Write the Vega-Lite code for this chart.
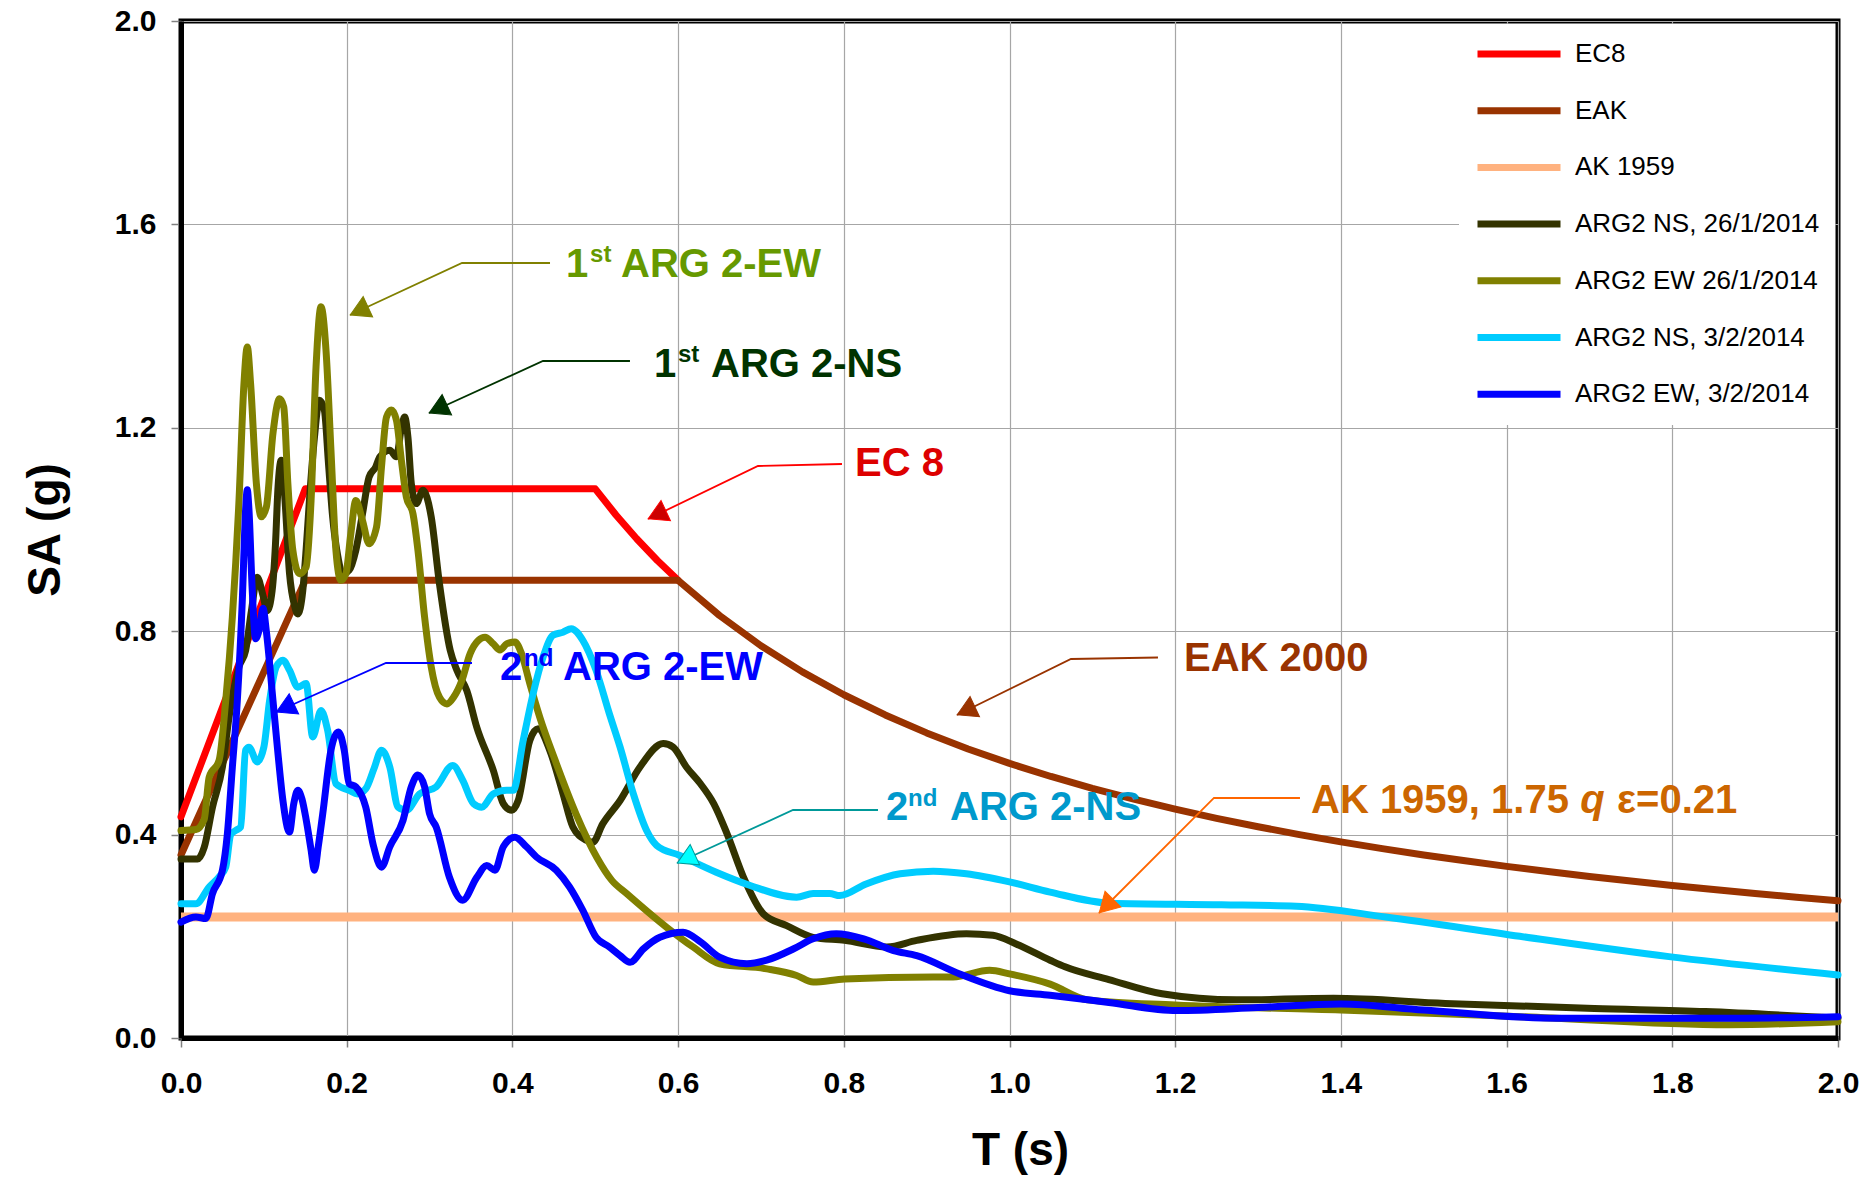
{
  "$schema": "https://vega.github.io/schema/vega-lite/v6.json",
  "width": 1657,
  "height": 1017,
  "autosize": {"type": "none"},
  "padding": {"left": 181, "top": 21, "right": 30, "bottom": 141},
  "background": "white",
  "config": {
    "font": "Liberation Sans",
    "view": {"stroke": "black", "strokeWidth": 5},
    "axis": {
      "labelFont": "Liberation Sans", "labelFontWeight": "bold", "labelFontSize": 30, "labelColor": "black",
      "titleFont": "Liberation Sans", "titleFontWeight": "bold", "titleFontSize": 46, "titleColor": "black",
      "domainColor": "black", "domainWidth": 5, "tickColor": "#808080", "tickWidth": 1.5,
      "gridColor": "#a6a6a6", "gridWidth": 1.2, "labelFlush": false, "labelOverlap": false, "labelBound": false
    },
    "legend": {
      "orient": "top-right", "offset": 3, "title": null, "symbolType": "stroke", "symbolSize": 6889,
      "symbolStrokeWidth": 7, "labelFont": "Liberation Sans", "labelFontSize": 26, "labelColor": "black",
      "fillColor": "white", "padding": 15, "rowPadding": 26.7, "clipHeight": 30, "labelOffset": 11, "labelLimit": 400
    }
  },
  "datasets": {
    "codes": [
      {"s": "EC8", "T": 0, "SA": 0.435}, {"s": "EC8", "T": 0.15, "SA": 1.08}, {"s": "EC8", "T": 0.5, "SA": 1.08},
      {"s": "EC8", "T": 0.525, "SA": 1.0286}, {"s": "EC8", "T": 0.55, "SA": 0.9818}, {"s": "EC8", "T": 0.575, "SA": 0.9391}, {"s": "EC8", "T": 0.6, "SA": 0.9},
      {"s": "EAK", "T": 0, "SA": 0.36}, {"s": "EAK", "T": 0.15, "SA": 0.9}, {"s": "EAK", "T": 0.6, "SA": 0.9},
      {"s": "EAK", "T": 0.65, "SA": 0.8308}, {"s": "EAK", "T": 0.7, "SA": 0.7714}, {"s": "EAK", "T": 0.75, "SA": 0.72},
      {"s": "EAK", "T": 0.8, "SA": 0.675}, {"s": "EAK", "T": 0.85, "SA": 0.6353}, {"s": "EAK", "T": 0.9, "SA": 0.6},
      {"s": "EAK", "T": 0.95, "SA": 0.5684}, {"s": "EAK", "T": 1.0, "SA": 0.54}, {"s": "EAK", "T": 1.05, "SA": 0.5143},
      {"s": "EAK", "T": 1.1, "SA": 0.4909}, {"s": "EAK", "T": 1.15, "SA": 0.4696}, {"s": "EAK", "T": 1.2, "SA": 0.45},
      {"s": "EAK", "T": 1.25, "SA": 0.432}, {"s": "EAK", "T": 1.3, "SA": 0.4154}, {"s": "EAK", "T": 1.35, "SA": 0.4},
      {"s": "EAK", "T": 1.4, "SA": 0.3857}, {"s": "EAK", "T": 1.45, "SA": 0.3724}, {"s": "EAK", "T": 1.5, "SA": 0.36},
      {"s": "EAK", "T": 1.55, "SA": 0.3484}, {"s": "EAK", "T": 1.6, "SA": 0.3375}, {"s": "EAK", "T": 1.65, "SA": 0.3273},
      {"s": "EAK", "T": 1.7, "SA": 0.3176}, {"s": "EAK", "T": 1.75, "SA": 0.3086}, {"s": "EAK", "T": 1.8, "SA": 0.3},
      {"s": "EAK", "T": 1.85, "SA": 0.2919}, {"s": "EAK", "T": 1.9, "SA": 0.2842}, {"s": "EAK", "T": 1.95, "SA": 0.2769},
      {"s": "EAK", "T": 2.0, "SA": 0.27}
    ],
    "ak": [
      {"s": "AK 1959", "T": 0, "SA": 0.238}, {"s": "AK 1959", "T": 2, "SA": 0.238}
    ],
    "rec": [
      {"s": "ARG2 NS, 26/1/2014", "T": 0, "SA": 0.352}, {"s": "ARG2 NS, 26/1/2014", "T": 0.02, "SA": 0.352},
      {"s": "ARG2 NS, 26/1/2014", "T": 0.028, "SA": 0.375}, {"s": "ARG2 NS, 26/1/2014", "T": 0.038, "SA": 0.454},
      {"s": "ARG2 NS, 26/1/2014", "T": 0.05, "SA": 0.533}, {"s": "ARG2 NS, 26/1/2014", "T": 0.058, "SA": 0.631},
      {"s": "ARG2 NS, 26/1/2014", "T": 0.07, "SA": 0.73}, {"s": "ARG2 NS, 26/1/2014", "T": 0.078, "SA": 0.762},
      {"s": "ARG2 NS, 26/1/2014", "T": 0.085, "SA": 0.84}, {"s": "ARG2 NS, 26/1/2014", "T": 0.092, "SA": 0.906},
      {"s": "ARG2 NS, 26/1/2014", "T": 0.099, "SA": 0.87}, {"s": "ARG2 NS, 26/1/2014", "T": 0.104, "SA": 0.84},
      {"s": "ARG2 NS, 26/1/2014", "T": 0.11, "SA": 0.88}, {"s": "ARG2 NS, 26/1/2014", "T": 0.114, "SA": 0.97},
      {"s": "ARG2 NS, 26/1/2014", "T": 0.117, "SA": 1.08}, {"s": "ARG2 NS, 26/1/2014", "T": 0.121, "SA": 1.136},
      {"s": "ARG2 NS, 26/1/2014", "T": 0.125, "SA": 1.07}, {"s": "ARG2 NS, 26/1/2014", "T": 0.131, "SA": 0.913},
      {"s": "ARG2 NS, 26/1/2014", "T": 0.137, "SA": 0.85}, {"s": "ARG2 NS, 26/1/2014", "T": 0.141, "SA": 0.834},
      {"s": "ARG2 NS, 26/1/2014", "T": 0.147, "SA": 0.88}, {"s": "ARG2 NS, 26/1/2014", "T": 0.151, "SA": 0.96},
      {"s": "ARG2 NS, 26/1/2014", "T": 0.155, "SA": 1.057}, {"s": "ARG2 NS, 26/1/2014", "T": 0.161, "SA": 1.18},
      {"s": "ARG2 NS, 26/1/2014", "T": 0.167, "SA": 1.254}, {"s": "ARG2 NS, 26/1/2014", "T": 0.173, "SA": 1.235},
      {"s": "ARG2 NS, 26/1/2014", "T": 0.178, "SA": 1.13}, {"s": "ARG2 NS, 26/1/2014", "T": 0.183, "SA": 1.025},
      {"s": "ARG2 NS, 26/1/2014", "T": 0.189, "SA": 0.95}, {"s": "ARG2 NS, 26/1/2014", "T": 0.195, "SA": 0.913},
      {"s": "ARG2 NS, 26/1/2014", "T": 0.203, "SA": 0.92}, {"s": "ARG2 NS, 26/1/2014", "T": 0.211, "SA": 0.959},
      {"s": "ARG2 NS, 26/1/2014", "T": 0.219, "SA": 1.03}, {"s": "ARG2 NS, 26/1/2014", "T": 0.227, "SA": 1.103},
      {"s": "ARG2 NS, 26/1/2014", "T": 0.235, "SA": 1.123}, {"s": "ARG2 NS, 26/1/2014", "T": 0.24, "SA": 1.143},
      {"s": "ARG2 NS, 26/1/2014", "T": 0.252, "SA": 1.156}, {"s": "ARG2 NS, 26/1/2014", "T": 0.26, "SA": 1.143},
      {"s": "ARG2 NS, 26/1/2014", "T": 0.266, "SA": 1.2}, {"s": "ARG2 NS, 26/1/2014", "T": 0.27, "SA": 1.221},
      {"s": "ARG2 NS, 26/1/2014", "T": 0.274, "SA": 1.18}, {"s": "ARG2 NS, 26/1/2014", "T": 0.278, "SA": 1.09},
      {"s": "ARG2 NS, 26/1/2014", "T": 0.284, "SA": 1.051}, {"s": "ARG2 NS, 26/1/2014", "T": 0.292, "SA": 1.077},
      {"s": "ARG2 NS, 26/1/2014", "T": 0.302, "SA": 1.025}, {"s": "ARG2 NS, 26/1/2014", "T": 0.312, "SA": 0.893},
      {"s": "ARG2 NS, 26/1/2014", "T": 0.325, "SA": 0.762}, {"s": "ARG2 NS, 26/1/2014", "T": 0.333, "SA": 0.723},
      {"s": "ARG2 NS, 26/1/2014", "T": 0.345, "SA": 0.683}, {"s": "ARG2 NS, 26/1/2014", "T": 0.357, "SA": 0.611},
      {"s": "ARG2 NS, 26/1/2014", "T": 0.377, "SA": 0.526}, {"s": "ARG2 NS, 26/1/2014", "T": 0.389, "SA": 0.461},
      {"s": "ARG2 NS, 26/1/2014", "T": 0.399, "SA": 0.448}, {"s": "ARG2 NS, 26/1/2014", "T": 0.407, "SA": 0.467},
      {"s": "ARG2 NS, 26/1/2014", "T": 0.421, "SA": 0.585}, {"s": "ARG2 NS, 26/1/2014", "T": 0.431, "SA": 0.608},
      {"s": "ARG2 NS, 26/1/2014", "T": 0.445, "SA": 0.566}, {"s": "ARG2 NS, 26/1/2014", "T": 0.461, "SA": 0.481},
      {"s": "ARG2 NS, 26/1/2014", "T": 0.473, "SA": 0.415}, {"s": "ARG2 NS, 26/1/2014", "T": 0.489, "SA": 0.389},
      {"s": "ARG2 NS, 26/1/2014", "T": 0.497, "SA": 0.385}, {"s": "ARG2 NS, 26/1/2014", "T": 0.509, "SA": 0.421},
      {"s": "ARG2 NS, 26/1/2014", "T": 0.53, "SA": 0.467}, {"s": "ARG2 NS, 26/1/2014", "T": 0.554, "SA": 0.533},
      {"s": "ARG2 NS, 26/1/2014", "T": 0.582, "SA": 0.579}, {"s": "ARG2 NS, 26/1/2014", "T": 0.594, "SA": 0.572},
      {"s": "ARG2 NS, 26/1/2014", "T": 0.61, "SA": 0.533}, {"s": "ARG2 NS, 26/1/2014", "T": 0.627, "SA": 0.5},
      {"s": "ARG2 NS, 26/1/2014", "T": 0.643, "SA": 0.461}, {"s": "ARG2 NS, 26/1/2014", "T": 0.659, "SA": 0.402},
      {"s": "ARG2 NS, 26/1/2014", "T": 0.679, "SA": 0.316}, {"s": "ARG2 NS, 26/1/2014", "T": 0.703, "SA": 0.244},
      {"s": "ARG2 NS, 26/1/2014", "T": 0.731, "SA": 0.221}, {"s": "ARG2 NS, 26/1/2014", "T": 0.763, "SA": 0.198},
      {"s": "ARG2 NS, 26/1/2014", "T": 0.801, "SA": 0.192}, {"s": "ARG2 NS, 26/1/2014", "T": 0.852, "SA": 0.179},
      {"s": "ARG2 NS, 26/1/2014", "T": 0.888, "SA": 0.192}, {"s": "ARG2 NS, 26/1/2014", "T": 0.948, "SA": 0.205},
      {"s": "ARG2 NS, 26/1/2014", "T": 0.98, "SA": 0.202}, {"s": "ARG2 NS, 26/1/2014", "T": 1.008, "SA": 0.185},
      {"s": "ARG2 NS, 26/1/2014", "T": 1.049, "SA": 0.153}, {"s": "ARG2 NS, 26/1/2014", "T": 1.067, "SA": 0.14},
      {"s": "ARG2 NS, 26/1/2014", "T": 1.12, "SA": 0.115}, {"s": "ARG2 NS, 26/1/2014", "T": 1.184, "SA": 0.087},
      {"s": "ARG2 NS, 26/1/2014", "T": 1.274, "SA": 0.075}, {"s": "ARG2 NS, 26/1/2014", "T": 1.391, "SA": 0.078},
      {"s": "ARG2 NS, 26/1/2014", "T": 1.526, "SA": 0.068}, {"s": "ARG2 NS, 26/1/2014", "T": 1.706, "SA": 0.058},
      {"s": "ARG2 NS, 26/1/2014", "T": 1.84, "SA": 0.052}, {"s": "ARG2 NS, 26/1/2014", "T": 2.0, "SA": 0.039},

      {"s": "ARG2 EW 26/1/2014", "T": 0, "SA": 0.408}, {"s": "ARG2 EW 26/1/2014", "T": 0.018, "SA": 0.41},
      {"s": "ARG2 EW 26/1/2014", "T": 0.028, "SA": 0.43}, {"s": "ARG2 EW 26/1/2014", "T": 0.034, "SA": 0.513},
      {"s": "ARG2 EW 26/1/2014", "T": 0.046, "SA": 0.546}, {"s": "ARG2 EW 26/1/2014", "T": 0.054, "SA": 0.664},
      {"s": "ARG2 EW 26/1/2014", "T": 0.062, "SA": 0.828}, {"s": "ARG2 EW 26/1/2014", "T": 0.07, "SA": 1.057},
      {"s": "ARG2 EW 26/1/2014", "T": 0.076, "SA": 1.287}, {"s": "ARG2 EW 26/1/2014", "T": 0.08, "SA": 1.359},
      {"s": "ARG2 EW 26/1/2014", "T": 0.084, "SA": 1.287}, {"s": "ARG2 EW 26/1/2014", "T": 0.091, "SA": 1.09},
      {"s": "ARG2 EW 26/1/2014", "T": 0.097, "SA": 1.025}, {"s": "ARG2 EW 26/1/2014", "T": 0.103, "SA": 1.044},
      {"s": "ARG2 EW 26/1/2014", "T": 0.111, "SA": 1.189}, {"s": "ARG2 EW 26/1/2014", "T": 0.119, "SA": 1.257},
      {"s": "ARG2 EW 26/1/2014", "T": 0.124, "SA": 1.241}, {"s": "ARG2 EW 26/1/2014", "T": 0.129, "SA": 1.09},
      {"s": "ARG2 EW 26/1/2014", "T": 0.135, "SA": 0.959}, {"s": "ARG2 EW 26/1/2014", "T": 0.143, "SA": 0.913},
      {"s": "ARG2 EW 26/1/2014", "T": 0.151, "SA": 0.926}, {"s": "ARG2 EW 26/1/2014", "T": 0.157, "SA": 1.057},
      {"s": "ARG2 EW 26/1/2014", "T": 0.163, "SA": 1.32}, {"s": "ARG2 EW 26/1/2014", "T": 0.169, "SA": 1.438},
      {"s": "ARG2 EW 26/1/2014", "T": 0.175, "SA": 1.353}, {"s": "ARG2 EW 26/1/2014", "T": 0.181, "SA": 1.156},
      {"s": "ARG2 EW 26/1/2014", "T": 0.187, "SA": 0.959}, {"s": "ARG2 EW 26/1/2014", "T": 0.193, "SA": 0.9},
      {"s": "ARG2 EW 26/1/2014", "T": 0.199, "SA": 0.913}, {"s": "ARG2 EW 26/1/2014", "T": 0.205, "SA": 0.992},
      {"s": "ARG2 EW 26/1/2014", "T": 0.211, "SA": 1.057}, {"s": "ARG2 EW 26/1/2014", "T": 0.219, "SA": 1.018},
      {"s": "ARG2 EW 26/1/2014", "T": 0.227, "SA": 0.972}, {"s": "ARG2 EW 26/1/2014", "T": 0.236, "SA": 1.005},
      {"s": "ARG2 EW 26/1/2014", "T": 0.242, "SA": 1.123}, {"s": "ARG2 EW 26/1/2014", "T": 0.248, "SA": 1.221},
      {"s": "ARG2 EW 26/1/2014", "T": 0.254, "SA": 1.235}, {"s": "ARG2 EW 26/1/2014", "T": 0.26, "SA": 1.215},
      {"s": "ARG2 EW 26/1/2014", "T": 0.266, "SA": 1.136}, {"s": "ARG2 EW 26/1/2014", "T": 0.272, "SA": 1.064},
      {"s": "ARG2 EW 26/1/2014", "T": 0.28, "SA": 1.031}, {"s": "ARG2 EW 26/1/2014", "T": 0.286, "SA": 0.959},
      {"s": "ARG2 EW 26/1/2014", "T": 0.294, "SA": 0.828}, {"s": "ARG2 EW 26/1/2014", "T": 0.302, "SA": 0.73},
      {"s": "ARG2 EW 26/1/2014", "T": 0.312, "SA": 0.67}, {"s": "ARG2 EW 26/1/2014", "T": 0.321, "SA": 0.657},
      {"s": "ARG2 EW 26/1/2014", "T": 0.329, "SA": 0.67}, {"s": "ARG2 EW 26/1/2014", "T": 0.339, "SA": 0.703},
      {"s": "ARG2 EW 26/1/2014", "T": 0.349, "SA": 0.756}, {"s": "ARG2 EW 26/1/2014", "T": 0.359, "SA": 0.782},
      {"s": "ARG2 EW 26/1/2014", "T": 0.367, "SA": 0.788}, {"s": "ARG2 EW 26/1/2014", "T": 0.377, "SA": 0.775},
      {"s": "ARG2 EW 26/1/2014", "T": 0.385, "SA": 0.763}, {"s": "ARG2 EW 26/1/2014", "T": 0.393, "SA": 0.775},
      {"s": "ARG2 EW 26/1/2014", "T": 0.403, "SA": 0.779}, {"s": "ARG2 EW 26/1/2014", "T": 0.411, "SA": 0.756},
      {"s": "ARG2 EW 26/1/2014", "T": 0.421, "SA": 0.697}, {"s": "ARG2 EW 26/1/2014", "T": 0.433, "SA": 0.631},
      {"s": "ARG2 EW 26/1/2014", "T": 0.453, "SA": 0.54}, {"s": "ARG2 EW 26/1/2014", "T": 0.477, "SA": 0.44},
      {"s": "ARG2 EW 26/1/2014", "T": 0.502, "SA": 0.355}, {"s": "ARG2 EW 26/1/2014", "T": 0.52, "SA": 0.31},
      {"s": "ARG2 EW 26/1/2014", "T": 0.538, "SA": 0.284}, {"s": "ARG2 EW 26/1/2014", "T": 0.586, "SA": 0.218},
      {"s": "ARG2 EW 26/1/2014", "T": 0.618, "SA": 0.179}, {"s": "ARG2 EW 26/1/2014", "T": 0.65, "SA": 0.146},
      {"s": "ARG2 EW 26/1/2014", "T": 0.707, "SA": 0.136}, {"s": "ARG2 EW 26/1/2014", "T": 0.743, "SA": 0.123},
      {"s": "ARG2 EW 26/1/2014", "T": 0.763, "SA": 0.11}, {"s": "ARG2 EW 26/1/2014", "T": 0.801, "SA": 0.116},
      {"s": "ARG2 EW 26/1/2014", "T": 0.908, "SA": 0.12}, {"s": "ARG2 EW 26/1/2014", "T": 0.932, "SA": 0.12},
      {"s": "ARG2 EW 26/1/2014", "T": 0.976, "SA": 0.133}, {"s": "ARG2 EW 26/1/2014", "T": 1.0, "SA": 0.126},
      {"s": "ARG2 EW 26/1/2014", "T": 1.049, "SA": 0.106}, {"s": "ARG2 EW 26/1/2014", "T": 1.094, "SA": 0.075},
      {"s": "ARG2 EW 26/1/2014", "T": 1.2, "SA": 0.065}, {"s": "ARG2 EW 26/1/2014", "T": 1.4, "SA": 0.055},
      {"s": "ARG2 EW 26/1/2014", "T": 1.616, "SA": 0.042}, {"s": "ARG2 EW 26/1/2014", "T": 1.868, "SA": 0.026},
      {"s": "ARG2 EW 26/1/2014", "T": 2.0, "SA": 0.032},

      {"s": "ARG2 NS, 3/2/2014", "T": 0, "SA": 0.264}, {"s": "ARG2 NS, 3/2/2014", "T": 0.018, "SA": 0.264},
      {"s": "ARG2 NS, 3/2/2014", "T": 0.034, "SA": 0.297}, {"s": "ARG2 NS, 3/2/2014", "T": 0.046, "SA": 0.317},
      {"s": "ARG2 NS, 3/2/2014", "T": 0.054, "SA": 0.336}, {"s": "ARG2 NS, 3/2/2014", "T": 0.06, "SA": 0.4},
      {"s": "ARG2 NS, 3/2/2014", "T": 0.066, "SA": 0.408}, {"s": "ARG2 NS, 3/2/2014", "T": 0.072, "SA": 0.415},
      {"s": "ARG2 NS, 3/2/2014", "T": 0.078, "SA": 0.566}, {"s": "ARG2 NS, 3/2/2014", "T": 0.082, "SA": 0.572},
      {"s": "ARG2 NS, 3/2/2014", "T": 0.092, "SA": 0.543}, {"s": "ARG2 NS, 3/2/2014", "T": 0.1, "SA": 0.572},
      {"s": "ARG2 NS, 3/2/2014", "T": 0.107, "SA": 0.664}, {"s": "ARG2 NS, 3/2/2014", "T": 0.115, "SA": 0.73},
      {"s": "ARG2 NS, 3/2/2014", "T": 0.123, "SA": 0.743}, {"s": "ARG2 NS, 3/2/2014", "T": 0.131, "SA": 0.723},
      {"s": "ARG2 NS, 3/2/2014", "T": 0.141, "SA": 0.69}, {"s": "ARG2 NS, 3/2/2014", "T": 0.151, "SA": 0.697},
      {"s": "ARG2 NS, 3/2/2014", "T": 0.159, "SA": 0.592}, {"s": "ARG2 NS, 3/2/2014", "T": 0.169, "SA": 0.644},
      {"s": "ARG2 NS, 3/2/2014", "T": 0.177, "SA": 0.605}, {"s": "ARG2 NS, 3/2/2014", "T": 0.187, "SA": 0.5},
      {"s": "ARG2 NS, 3/2/2014", "T": 0.203, "SA": 0.487}, {"s": "ARG2 NS, 3/2/2014", "T": 0.213, "SA": 0.48},
      {"s": "ARG2 NS, 3/2/2014", "T": 0.223, "SA": 0.49}, {"s": "ARG2 NS, 3/2/2014", "T": 0.233, "SA": 0.53},
      {"s": "ARG2 NS, 3/2/2014", "T": 0.242, "SA": 0.566}, {"s": "ARG2 NS, 3/2/2014", "T": 0.252, "SA": 0.533},
      {"s": "ARG2 NS, 3/2/2014", "T": 0.262, "SA": 0.454}, {"s": "ARG2 NS, 3/2/2014", "T": 0.272, "SA": 0.448},
      {"s": "ARG2 NS, 3/2/2014", "T": 0.288, "SA": 0.48}, {"s": "ARG2 NS, 3/2/2014", "T": 0.308, "SA": 0.494},
      {"s": "ARG2 NS, 3/2/2014", "T": 0.328, "SA": 0.536}, {"s": "ARG2 NS, 3/2/2014", "T": 0.34, "SA": 0.507},
      {"s": "ARG2 NS, 3/2/2014", "T": 0.353, "SA": 0.461}, {"s": "ARG2 NS, 3/2/2014", "T": 0.363, "SA": 0.454},
      {"s": "ARG2 NS, 3/2/2014", "T": 0.377, "SA": 0.48}, {"s": "ARG2 NS, 3/2/2014", "T": 0.393, "SA": 0.487},
      {"s": "ARG2 NS, 3/2/2014", "T": 0.401, "SA": 0.487}, {"s": "ARG2 NS, 3/2/2014", "T": 0.413, "SA": 0.585},
      {"s": "ARG2 NS, 3/2/2014", "T": 0.425, "SA": 0.677}, {"s": "ARG2 NS, 3/2/2014", "T": 0.437, "SA": 0.749},
      {"s": "ARG2 NS, 3/2/2014", "T": 0.449, "SA": 0.792}, {"s": "ARG2 NS, 3/2/2014", "T": 0.461, "SA": 0.798},
      {"s": "ARG2 NS, 3/2/2014", "T": 0.471, "SA": 0.805}, {"s": "ARG2 NS, 3/2/2014", "T": 0.485, "SA": 0.782},
      {"s": "ARG2 NS, 3/2/2014", "T": 0.501, "SA": 0.723}, {"s": "ARG2 NS, 3/2/2014", "T": 0.517, "SA": 0.638},
      {"s": "ARG2 NS, 3/2/2014", "T": 0.53, "SA": 0.572}, {"s": "ARG2 NS, 3/2/2014", "T": 0.546, "SA": 0.48},
      {"s": "ARG2 NS, 3/2/2014", "T": 0.562, "SA": 0.408}, {"s": "ARG2 NS, 3/2/2014", "T": 0.574, "SA": 0.379},
      {"s": "ARG2 NS, 3/2/2014", "T": 0.602, "SA": 0.359}, {"s": "ARG2 NS, 3/2/2014", "T": 0.646, "SA": 0.326},
      {"s": "ARG2 NS, 3/2/2014", "T": 0.687, "SA": 0.3}, {"s": "ARG2 NS, 3/2/2014", "T": 0.743, "SA": 0.277},
      {"s": "ARG2 NS, 3/2/2014", "T": 0.763, "SA": 0.284}, {"s": "ARG2 NS, 3/2/2014", "T": 0.783, "SA": 0.284},
      {"s": "ARG2 NS, 3/2/2014", "T": 0.795, "SA": 0.28}, {"s": "ARG2 NS, 3/2/2014", "T": 0.827, "SA": 0.303},
      {"s": "ARG2 NS, 3/2/2014", "T": 0.868, "SA": 0.323}, {"s": "ARG2 NS, 3/2/2014", "T": 0.908, "SA": 0.328},
      {"s": "ARG2 NS, 3/2/2014", "T": 0.948, "SA": 0.323}, {"s": "ARG2 NS, 3/2/2014", "T": 1.0, "SA": 0.307},
      {"s": "ARG2 NS, 3/2/2014", "T": 1.049, "SA": 0.287}, {"s": "ARG2 NS, 3/2/2014", "T": 1.122, "SA": 0.265},
      {"s": "ARG2 NS, 3/2/2014", "T": 1.256, "SA": 0.262}, {"s": "ARG2 NS, 3/2/2014", "T": 1.346, "SA": 0.259},
      {"s": "ARG2 NS, 3/2/2014", "T": 1.454, "SA": 0.238}, {"s": "ARG2 NS, 3/2/2014", "T": 1.616, "SA": 0.2},
      {"s": "ARG2 NS, 3/2/2014", "T": 1.796, "SA": 0.16}, {"s": "ARG2 NS, 3/2/2014", "T": 2.0, "SA": 0.124},

      {"s": "ARG2 EW, 3/2/2014", "T": 0, "SA": 0.228}, {"s": "ARG2 EW, 3/2/2014", "T": 0.018, "SA": 0.238},
      {"s": "ARG2 EW, 3/2/2014", "T": 0.03, "SA": 0.235}, {"s": "ARG2 EW, 3/2/2014", "T": 0.038, "SA": 0.284},
      {"s": "ARG2 EW, 3/2/2014", "T": 0.05, "SA": 0.33}, {"s": "ARG2 EW, 3/2/2014", "T": 0.056, "SA": 0.402},
      {"s": "ARG2 EW, 3/2/2014", "T": 0.062, "SA": 0.533}, {"s": "ARG2 EW, 3/2/2014", "T": 0.068, "SA": 0.664},
      {"s": "ARG2 EW, 3/2/2014", "T": 0.074, "SA": 0.861}, {"s": "ARG2 EW, 3/2/2014", "T": 0.078, "SA": 1.04},
      {"s": "ARG2 EW, 3/2/2014", "T": 0.08, "SA": 1.078}, {"s": "ARG2 EW, 3/2/2014", "T": 0.082, "SA": 1.04},
      {"s": "ARG2 EW, 3/2/2014", "T": 0.086, "SA": 0.88}, {"s": "ARG2 EW, 3/2/2014", "T": 0.09, "SA": 0.785},
      {"s": "ARG2 EW, 3/2/2014", "T": 0.094, "SA": 0.8}, {"s": "ARG2 EW, 3/2/2014", "T": 0.099, "SA": 0.845},
      {"s": "ARG2 EW, 3/2/2014", "T": 0.103, "SA": 0.8}, {"s": "ARG2 EW, 3/2/2014", "T": 0.111, "SA": 0.664},
      {"s": "ARG2 EW, 3/2/2014", "T": 0.117, "SA": 0.56}, {"s": "ARG2 EW, 3/2/2014", "T": 0.123, "SA": 0.467},
      {"s": "ARG2 EW, 3/2/2014", "T": 0.131, "SA": 0.405}, {"s": "ARG2 EW, 3/2/2014", "T": 0.136, "SA": 0.46},
      {"s": "ARG2 EW, 3/2/2014", "T": 0.141, "SA": 0.487}, {"s": "ARG2 EW, 3/2/2014", "T": 0.146, "SA": 0.47},
      {"s": "ARG2 EW, 3/2/2014", "T": 0.151, "SA": 0.43}, {"s": "ARG2 EW, 3/2/2014", "T": 0.157, "SA": 0.37},
      {"s": "ARG2 EW, 3/2/2014", "T": 0.161, "SA": 0.33}, {"s": "ARG2 EW, 3/2/2014", "T": 0.166, "SA": 0.38},
      {"s": "ARG2 EW, 3/2/2014", "T": 0.171, "SA": 0.44}, {"s": "ARG2 EW, 3/2/2014", "T": 0.181, "SA": 0.566},
      {"s": "ARG2 EW, 3/2/2014", "T": 0.19, "SA": 0.602}, {"s": "ARG2 EW, 3/2/2014", "T": 0.197, "SA": 0.566},
      {"s": "ARG2 EW, 3/2/2014", "T": 0.203, "SA": 0.5}, {"s": "ARG2 EW, 3/2/2014", "T": 0.211, "SA": 0.494},
      {"s": "ARG2 EW, 3/2/2014", "T": 0.223, "SA": 0.454}, {"s": "ARG2 EW, 3/2/2014", "T": 0.232, "SA": 0.38},
      {"s": "ARG2 EW, 3/2/2014", "T": 0.242, "SA": 0.336}, {"s": "ARG2 EW, 3/2/2014", "T": 0.252, "SA": 0.376},
      {"s": "ARG2 EW, 3/2/2014", "T": 0.268, "SA": 0.428}, {"s": "ARG2 EW, 3/2/2014", "T": 0.278, "SA": 0.494},
      {"s": "ARG2 EW, 3/2/2014", "T": 0.286, "SA": 0.517}, {"s": "ARG2 EW, 3/2/2014", "T": 0.294, "SA": 0.494},
      {"s": "ARG2 EW, 3/2/2014", "T": 0.3, "SA": 0.441}, {"s": "ARG2 EW, 3/2/2014", "T": 0.308, "SA": 0.415},
      {"s": "ARG2 EW, 3/2/2014", "T": 0.324, "SA": 0.316}, {"s": "ARG2 EW, 3/2/2014", "T": 0.34, "SA": 0.271},
      {"s": "ARG2 EW, 3/2/2014", "T": 0.357, "SA": 0.316}, {"s": "ARG2 EW, 3/2/2014", "T": 0.369, "SA": 0.339},
      {"s": "ARG2 EW, 3/2/2014", "T": 0.379, "SA": 0.33}, {"s": "ARG2 EW, 3/2/2014", "T": 0.389, "SA": 0.376},
      {"s": "ARG2 EW, 3/2/2014", "T": 0.403, "SA": 0.395}, {"s": "ARG2 EW, 3/2/2014", "T": 0.417, "SA": 0.376},
      {"s": "ARG2 EW, 3/2/2014", "T": 0.429, "SA": 0.356}, {"s": "ARG2 EW, 3/2/2014", "T": 0.453, "SA": 0.33},
      {"s": "ARG2 EW, 3/2/2014", "T": 0.469, "SA": 0.297}, {"s": "ARG2 EW, 3/2/2014", "T": 0.485, "SA": 0.251},
      {"s": "ARG2 EW, 3/2/2014", "T": 0.501, "SA": 0.198}, {"s": "ARG2 EW, 3/2/2014", "T": 0.517, "SA": 0.179},
      {"s": "ARG2 EW, 3/2/2014", "T": 0.53, "SA": 0.162}, {"s": "ARG2 EW, 3/2/2014", "T": 0.542, "SA": 0.149},
      {"s": "ARG2 EW, 3/2/2014", "T": 0.558, "SA": 0.175}, {"s": "ARG2 EW, 3/2/2014", "T": 0.578, "SA": 0.198},
      {"s": "ARG2 EW, 3/2/2014", "T": 0.606, "SA": 0.208}, {"s": "ARG2 EW, 3/2/2014", "T": 0.627, "SA": 0.189},
      {"s": "ARG2 EW, 3/2/2014", "T": 0.65, "SA": 0.159}, {"s": "ARG2 EW, 3/2/2014", "T": 0.683, "SA": 0.146},
      {"s": "ARG2 EW, 3/2/2014", "T": 0.707, "SA": 0.153}, {"s": "ARG2 EW, 3/2/2014", "T": 0.739, "SA": 0.175},
      {"s": "ARG2 EW, 3/2/2014", "T": 0.763, "SA": 0.195}, {"s": "ARG2 EW, 3/2/2014", "T": 0.791, "SA": 0.205},
      {"s": "ARG2 EW, 3/2/2014", "T": 0.824, "SA": 0.195}, {"s": "ARG2 EW, 3/2/2014", "T": 0.86, "SA": 0.172},
      {"s": "ARG2 EW, 3/2/2014", "T": 0.888, "SA": 0.162}, {"s": "ARG2 EW, 3/2/2014", "T": 0.94, "SA": 0.126},
      {"s": "ARG2 EW, 3/2/2014", "T": 1.0, "SA": 0.093}, {"s": "ARG2 EW, 3/2/2014", "T": 1.049, "SA": 0.084},
      {"s": "ARG2 EW, 3/2/2014", "T": 1.12, "SA": 0.07}, {"s": "ARG2 EW, 3/2/2014", "T": 1.202, "SA": 0.054},
      {"s": "ARG2 EW, 3/2/2014", "T": 1.3, "SA": 0.06}, {"s": "ARG2 EW, 3/2/2014", "T": 1.4, "SA": 0.067},
      {"s": "ARG2 EW, 3/2/2014", "T": 1.5, "SA": 0.055}, {"s": "ARG2 EW, 3/2/2014", "T": 1.66, "SA": 0.039},
      {"s": "ARG2 EW, 3/2/2014", "T": 1.886, "SA": 0.039}, {"s": "ARG2 EW, 3/2/2014", "T": 2.0, "SA": 0.042}
    ],
    "lead": [
      {"a": "A1", "o": 1, "T": 0.4454, "SA": 1.5241}, {"a": "A1", "o": 2, "T": 0.3392, "SA": 1.5241}, {"a": "A1", "o": 3, "T": 0.204, "SA": 1.4218},
      {"a": "A2", "o": 1, "T": 0.5419, "SA": 1.3314}, {"a": "A2", "o": 2, "T": 0.4369, "SA": 1.3314}, {"a": "A2", "o": 3, "T": 0.2993, "SA": 1.2291},
      {"a": "A3", "o": 1, "T": 0.7978, "SA": 1.1288}, {"a": "A3", "o": 2, "T": 0.6964, "SA": 1.1249}, {"a": "A3", "o": 3, "T": 0.5637, "SA": 1.0206},
      {"a": "A4", "o": 1, "T": 1.1792, "SA": 0.7483}, {"a": "A4", "o": 2, "T": 1.0742, "SA": 0.7453}, {"a": "A4", "o": 3, "T": 0.9366, "SA": 0.6352},
      {"a": "A5", "o": 1, "T": 0.3512, "SA": 0.7375}, {"a": "A5", "o": 2, "T": 0.2474, "SA": 0.7375}, {"a": "A5", "o": 3, "T": 0.1147, "SA": 0.6411},
      {"a": "A6", "o": 1, "T": 0.8413, "SA": 0.4484}, {"a": "A6", "o": 2, "T": 0.7387, "SA": 0.4484}, {"a": "A6", "o": 3, "T": 0.5987, "SA": 0.3441},
      {"a": "A7", "o": 1, "T": 1.3506, "SA": 0.472}, {"a": "A7", "o": 2, "T": 1.2468, "SA": 0.472}, {"a": "A7", "o": 3, "T": 1.108, "SA": 0.2458}
    ],
    "head": [
      {"a": "A1", "T": 0.215, "SA": 1.4301}, {"a": "A2", "T": 0.3103, "SA": 1.2373}, {"a": "A3", "T": 0.5745, "SA": 1.0292},
      {"a": "A4", "T": 0.9475, "SA": 0.6438}, {"a": "A5", "T": 0.1257, "SA": 0.6492}, {"a": "A6", "T": 0.6097, "SA": 0.3524},
      {"a": "A7", "T": 1.1166, "SA": 0.2598}
    ],
    "txt": [
      {"a": "A1", "k": "1", "T": 0.4647, "SA": 1.4966}, {"a": "A1", "k": "ARG 2-EW", "T": 0.5311, "SA": 1.4966},
      {"a": "A2", "k": "1", "T": 0.5709, "SA": 1.2999}, {"a": "A2", "k": "ARG 2-NS", "T": 0.6397, "SA": 1.2999},
      {"a": "A3", "k": "EC 8", "T": 0.8135, "SA": 1.1052},
      {"a": "A4", "k": "EAK 2000", "T": 1.2106, "SA": 0.7217},
      {"a": "A5", "k": "2", "T": 0.385, "SA": 0.704}, {"a": "A5", "k": "ARG 2-EW", "T": 0.4611, "SA": 0.704},
      {"a": "A6", "k": "2", "T": 0.8509, "SA": 0.4287}, {"a": "A6", "k": "ARG 2-NS", "T": 0.9282, "SA": 0.4287},
      {"a": "A7", "k": "AK 1959, 1.75", "T": 1.3639, "SA": 0.4425}, {"a": "A7", "k": "ε=0.21", "T": 1.7333, "SA": 0.4425}
    ],
    "sup": [
      {"a": "A1", "k": "st", "T": 0.4937, "SA": 1.5261}, {"a": "A2", "k": "st", "T": 0.5999, "SA": 1.3294},
      {"a": "A5", "k": "nd", "T": 0.414, "SA": 0.7316}, {"a": "A6", "k": "nd", "T": 0.8775, "SA": 0.4562}
    ],
    "ital": [
      {"a": "A7", "k": "q", "T": 1.689, "SA": 0.4425}
    ]
  },
  "encoding": {
    "x": {
      "field": "T", "type": "quantitative",
      "scale": {"domain": [0, 2], "nice": false, "zero": false},
      "axis": {"values": [0, 0.2, 0.4, 0.6, 0.8, 1.0, 1.2, 1.4, 1.6, 1.8, 2.0], "format": ".1f", "tickSize": 9,
               "labelPadding": 21, "title": "T (s)", "titlePadding": 30, "titleX": 839, "grid": true}
    },
    "y": {
      "field": "SA", "type": "quantitative",
      "scale": {"domain": [0, 2], "nice": false, "zero": false},
      "axis": {"values": [0, 0.4, 0.8, 1.2, 1.6, 2.0], "format": ".1f", "tickSize": 10,
               "labelPadding": 15, "title": "SA (g)", "titlePadding": 45, "grid": true}
    }
  },
  "layer": [
    {
      "data": {"name": "codes"},
      "mark": {"type": "line", "strokeWidth": 7, "strokeCap": "round", "strokeJoin": "round"},
      "encoding": {
        "color": {"field": "s", "type": "nominal",
          "scale": {"domain": ["EC8", "EAK", "AK 1959", "ARG2 NS, 26/1/2014", "ARG2 EW 26/1/2014", "ARG2 NS, 3/2/2014", "ARG2 EW, 3/2/2014"],
                    "range": ["#ff0000", "#993300", "#ffb27f", "#333300", "#808000", "#00ccff", "#0000ff"]}}
      }
    },
    {
      "data": {"name": "ak"},
      "mark": {"type": "line", "strokeWidth": 9},
      "encoding": {"color": {"field": "s", "type": "nominal"}}
    },
    {
      "data": {"name": "rec"},
      "mark": {"type": "line", "strokeWidth": 7, "interpolate": "monotone", "strokeCap": "round", "strokeJoin": "round"},
      "encoding": {"color": {"field": "s", "type": "nominal"}}
    },
    {
      "data": {"name": "lead"},
      "mark": {"type": "line", "strokeWidth": 1.8},
      "encoding": {
        "order": {"field": "o", "type": "quantitative"},
        "stroke": {"field": "a", "type": "nominal", "legend": null,
          "scale": {"domain": ["A1", "A2", "A3", "A4", "A5", "A6", "A7"],
                    "range": ["#808000", "#003300", "#ff0000", "#993300", "#0000ff", "#009999", "#ff6600"]}}
      }
    },
    {
      "data": {"name": "head"},
      "transform": [{"filter": "datum.a != 'A7'"}],
      "mark": {"type": "point", "shape": "triangle-up", "filled": true, "size": 500, "angle": 245, "strokeWidth": 1, "opacity": 1},
      "encoding": {
        "fill": {"field": "a", "type": "nominal", "legend": null,
          "scale": {"domain": ["A1", "A2", "A3", "A4", "A5", "A6", "A7"],
                    "range": ["#808000", "#003300", "#cc0000", "#993300", "#0000ff", "#00ffff", "#ff6600"]}},
        "stroke": {"field": "a", "type": "nominal", "legend": null}
      }
    },
    {
      "data": {"name": "head"},
      "transform": [{"filter": "datum.a == 'A7'"}],
      "mark": {"type": "point", "shape": "triangle-up", "filled": true, "size": 500, "angle": 225, "strokeWidth": 1, "opacity": 1},
      "encoding": {
        "fill": {"field": "a", "type": "nominal", "legend": null,
          "scale": {"domain": ["A1", "A2", "A3", "A4", "A5", "A6", "A7"],
                    "range": ["#808000", "#003300", "#cc0000", "#993300", "#0000ff", "#00ffff", "#ff6600"]}},
        "stroke": {"field": "a", "type": "nominal", "legend": null}
      }
    },
    {
      "data": {"name": "txt"},
      "mark": {"type": "text", "font": "Liberation Sans", "fontWeight": "bold", "fontSize": 40, "align": "left", "baseline": "alphabetic"},
      "encoding": {
        "text": {"field": "k", "type": "nominal"},
        "fill": {"field": "a", "type": "nominal", "legend": null,
          "scale": {"domain": ["A1", "A2", "A3", "A4", "A5", "A6", "A7"],
                    "range": ["#669900", "#003300", "#dd0000", "#993300", "#0000ff", "#0099cc", "#cc6600"]}}
      }
    },
    {
      "data": {"name": "sup"},
      "mark": {"type": "text", "font": "Liberation Sans", "fontWeight": "bold", "fontSize": 24, "align": "left", "baseline": "alphabetic"},
      "encoding": {
        "text": {"field": "k", "type": "nominal"},
        "fill": {"field": "a", "type": "nominal", "legend": null,
          "scale": {"domain": ["A1", "A2", "A3", "A4", "A5", "A6", "A7"],
                    "range": ["#669900", "#003300", "#dd0000", "#993300", "#0000ff", "#0099cc", "#cc6600"]}}
      }
    },
    {
      "data": {"name": "ital"},
      "mark": {"type": "text", "font": "Liberation Sans", "fontWeight": "bold", "fontStyle": "italic", "fontSize": 40, "align": "left", "baseline": "alphabetic"},
      "encoding": {
        "text": {"field": "k", "type": "nominal"},
        "fill": {"field": "a", "type": "nominal", "legend": null,
          "scale": {"domain": ["A1", "A2", "A3", "A4", "A5", "A6", "A7"],
                    "range": ["#669900", "#003300", "#dd0000", "#993300", "#0000ff", "#0099cc", "#cc6600"]}}
      }
    }
  ],
  "resolve": {"scale": {"fill": "independent"}}
}
